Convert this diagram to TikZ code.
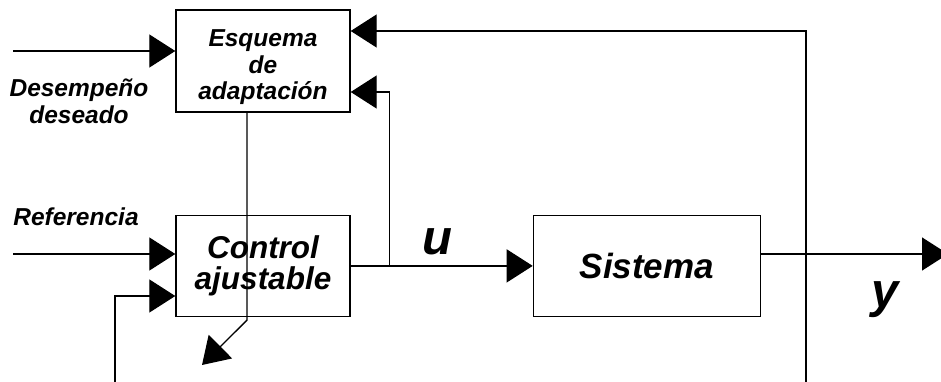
\documentclass[tikz,border=0pt]{standalone}
\usepackage{fontspec}
\setmainfont{Liberation Sans}
\usetikzlibrary{arrows.meta,positioning}

\begin{document}
\begin{tikzpicture}[
  x=1pt, y=-1pt,
  block/.style={rectangle,draw,line width=1.4pt,inner sep=0pt,align=center},
  flow/.style={-{Triangle[length=26pt,width=33pt]},line width=1.3pt},
  tag/.style={inner sep=0pt,align=center,font=\bfseries\itshape\fontsize{24.5}{27}\selectfont},
  sig/.style={inner sep=0pt,anchor=base,font=\bfseries\itshape\fontsize{49}{52}\selectfont}
]
  \useasboundingbox (0,0) rectangle (941,382);
  \clip (0,0) rectangle (941,382);

  % blocks
  \node[block,minimum width=174pt,minimum height=102pt,
        font=\bfseries\itshape\fontsize{24.5}{26.5}\selectfont] (esquema) at (263,61)
        {\rule{0pt}{30pt}Esquema\\de\\adaptación};
  \node[block,minimum width=174pt,minimum height=101pt,below=102pt of esquema,
        font=\bfseries\itshape\fontsize{31.5}{31}\selectfont] (control)
        {Control\\ajustable};
  \node[block,minimum width=227pt,minimum height=101pt,right=182pt of control,
        font=\bfseries\itshape\fontsize{35}{38}\selectfont] (sistema) {Sistema};

  % inputs on the left
  \coordinate (desIn) at (13,51);
  \coordinate (refIn) at (13,254);
  \coordinate (fbIn) at (115,390);
  \coordinate (fbTurn) at (115,296);
  \node[tag] (desLab) at (79,101) {Desempeño\\deseado};
  \node[tag,anchor=base] (refLab) at (76,225) {Referencia};
  \draw[flow] (desIn) -- (desIn -| esquema.west);
  \draw[flow] (refIn) -- (refIn -| control.west);
  \draw[flow] (fbIn) -- (fbTurn) -- (fbTurn -| control.west);

  % adaptation acting on the controller
  \coordinate (adj) at (202,365);
  \draw[flow] ([xshift=-16pt]esquema.south) -- ([xshift=-16pt,yshift=-3pt]control.south) -- (adj);

  % control signal u
  \coordinate (uTap) at ([xshift=39pt]control.east);
  \draw[flow] (control.east) -- (sistema.west);
  \draw[flow] (uTap) |- ([yshift=-31pt]esquema.east);
  \node[sig] (uLab) at (437,254) {u};

  % output y and its feedback
  \coordinate (yOut) at (948,254);
  \coordinate (yFb) at (806,390);
  \draw[flow] (yOut -| sistema.east) -- (yOut);
  \draw[flow] (yFb) |- ([yshift=30pt]esquema.east);
  \node[sig] (yLab) at (885,307) {y};
\end{tikzpicture}
\end{document}
